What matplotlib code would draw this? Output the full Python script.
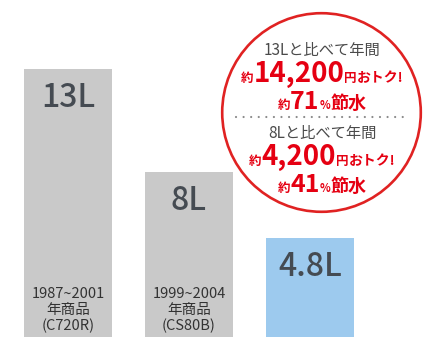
import matplotlib
matplotlib.use("Agg")
import matplotlib.pyplot as plt
from matplotlib.patches import Circle

plt.rcParams['font.family'] = ['Noto Sans CJK JP', 'DejaVu Sans']

# water use per flush (L)
liters = [13, 8, 4.8]
value_labels = ['13L', '8L', '4.8L']
product_years = ['1987~2001', '1999~2004', '']
product_kind = ['年商品', '年商品', '']
product_model = ['(C720R)', '(CS80B)', '']
bar_colors = ['#c9c9c9', '#c9c9c9', '#9dcaee']

# savings callout
compare_titles = ['13Lと比べて年間', '8Lと比べて年間']
yen_saved = ['14,200', '4,200']
pct_saved = ['71', '41']

RED = '#e50012'
GRAY_TXT = '#4a4a4a'

fig = plt.figure(figsize=(4.36, 3.4), dpi=100)
ax = fig.add_axes([0, 0, 1, 1])
ax.set_xlim(-0.562, 3.041)
ax.set_ylim(-0.1455, 16.35)
ax.axis('off')

xs = range(len(liters))
ax.bar(xs, liters, width=0.73, color=bar_colors, zorder=1)

for x, h, lab in zip(xs, liters, value_labels):
    ax.annotate(lab, xy=(x, h), xytext=(0, -21), textcoords='offset points',
                ha='center', va='center', fontsize=23, fontweight='medium',
                color='#454b52')

for x, a, b, c in zip(xs, product_years, product_kind, product_model):
    for i, s in enumerate([a, b, c]):
        ax.annotate(s, xy=(x, 0), xytext=(0, 31 - i * 11.5), textcoords='offset points',
                    ha='center', va='center', fontsize=10.5, color='#333333')

# overlay in pixel coords for the callout
ov = fig.add_axes([0, 0, 1, 1])
ov.set_xlim(0, 436)
ov.set_ylim(340, 0)
ov.axis('off')
ov.patch.set_alpha(0)

ov.add_patch(Circle((321.5, 112.5), 99.3, facecolor='white', edgecolor='#e02222', lw=1.9))
ov.plot([236, 408], [117, 117], linestyle=(0, (0.01, 3.4)), lw=1.6,
        color='#8a8a8a', dash_capstyle='round', solid_capstyle='round')

renderer = fig.canvas.get_renderer()


def rich_line(cx, y, parts):
    texts = []
    for s, size, color, weight in parts:
        t = ov.text(0, y, s, fontsize=size, color=color, fontweight=weight,
                    ha='left', va='baseline')
        texts.append(t)
    widths = [t.get_window_extent(renderer).width for t in texts]
    x = cx - sum(widths) / 2
    for t, w in zip(texts, widths):
        t.set_x(x)
        x += w


cx = 322
for k, (title, yen, pct) in enumerate(zip(compare_titles, yen_saved, pct_saved)):
    dy = k * 83
    rich_line(cx, 55 + dy, [(title, 11, GRAY_TXT, 'normal')])
    rich_line(cx, 82 + dy, [('約', 9, RED, 'bold'), (yen, 20, RED, 'bold'),
                            ('円', 9, RED, 'bold'), ('おトク!', 10, RED, 'bold')])
    rich_line(cx, 109 + dy, [('約', 9, RED, 'bold'), (pct, 18, RED, 'bold'),
                             ('%', 8, RED, 'bold'), ('節水', 13, RED, 'bold')])

fig.savefig('out.png', dpi=100)
